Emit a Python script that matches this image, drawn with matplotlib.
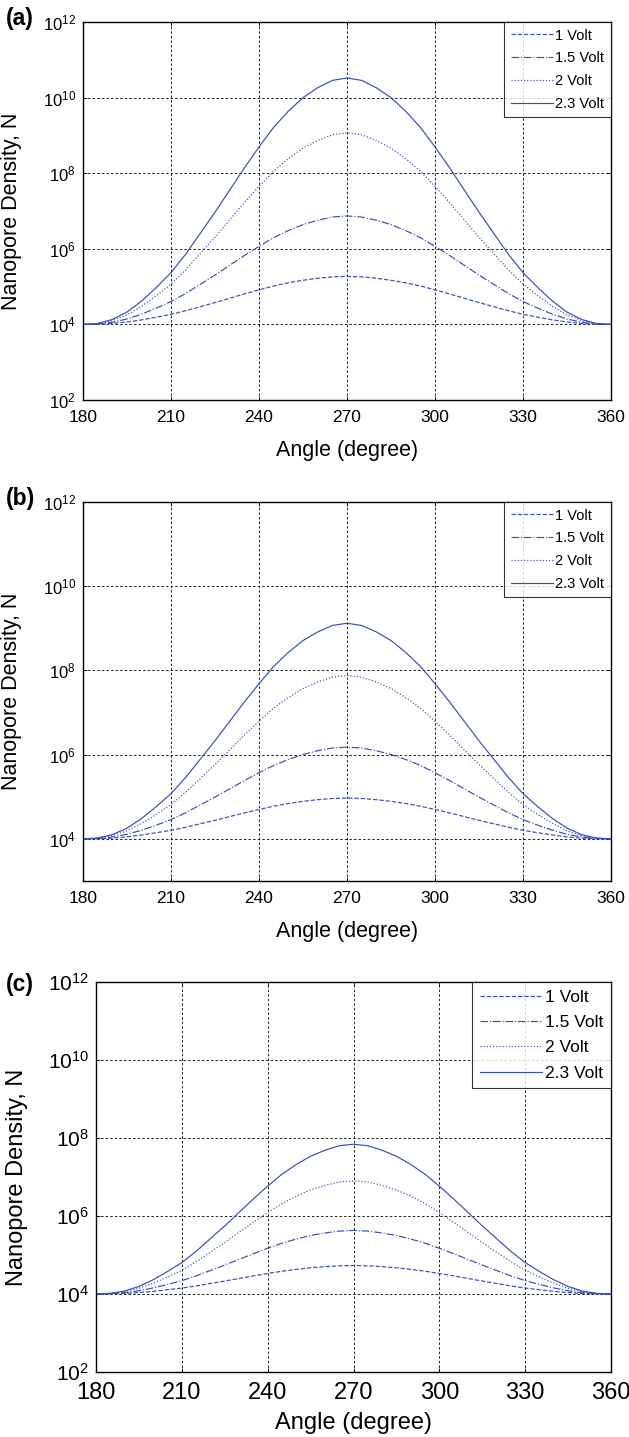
import matplotlib
matplotlib.use("Agg")
import matplotlib.pyplot as plt
from matplotlib.ticker import FixedLocator, NullLocator, LogFormatterSciNotation

plt.rcParams['font.family'] = ['Liberation Sans', 'DejaVu Sans']
plt.rcParams['mathtext.fontset'] = 'custom'
plt.rcParams['mathtext.rm'] = 'Liberation Sans'
plt.rcParams['mathtext.it'] = 'Liberation Sans:italic'
plt.rcParams['mathtext.bf'] = 'Liberation Sans:bold'

angle = [180, 185, 190, 195, 200, 205, 210, 215, 220, 225, 230, 235, 240, 245, 250, 255, 260, 265,
         270, 275, 280, 285, 290, 295, 300, 305, 310, 315, 320, 325, 330, 335, 340, 345, 350, 355, 360]
labels = ['1 Volt', '1.5 Volt', '2 Volt', '2.3 Volt']

# panel (a)
a_1v = [1.0e4, 1.01e4, 1.06e4, 1.16e4, 1.32e4, 1.55e4, 1.85e4, 2.30e4, 2.95e4, 3.78e4, 4.92e4, 6.40e4,
        8.20e4, 1.04e5, 1.26e5, 1.47e5, 1.66e5, 1.81e5, 1.86e5, 1.81e5, 1.66e5, 1.47e5, 1.26e5, 1.04e5,
        8.20e4, 6.40e4, 4.92e4, 3.78e4, 2.95e4, 2.30e4, 1.85e4, 1.55e4, 1.32e4, 1.16e4, 1.06e4, 1.01e4, 1.0e4]
a_15v = [1.0e4, 1.03e4, 1.14e4, 1.39e4, 1.87e4, 2.70e4, 4.01e4, 6.58e4, 1.15e5, 2.02e5, 3.66e5, 6.64e5,
         1.16e6, 1.98e6, 3.04e6, 4.37e6, 5.69e6, 6.93e6, 7.41e6, 6.93e6, 5.69e6, 4.37e6, 3.04e6, 1.98e6,
         1.16e6, 6.64e5, 3.66e5, 2.02e5, 1.15e5, 6.58e4, 4.01e4, 2.70e4, 1.87e4, 1.39e4, 1.14e4, 1.03e4, 1.0e4]
a_2v = [1.0e4, 1.05e4, 1.26e4, 1.79e4, 3.03e4, 5.77e4, 1.16e5, 2.79e5, 7.52e5, 2.03e6, 5.79e6, 1.66e7,
        4.47e7, 1.14e8, 2.43e8, 4.61e8, 7.36e8, 1.04e9, 1.17e9, 1.04e9, 7.36e8, 4.61e8, 2.43e8, 1.14e8,
        4.47e7, 1.66e7, 5.79e6, 2.03e6, 7.52e5, 2.79e5, 1.16e5, 5.77e4, 3.03e4, 1.79e4, 1.26e4, 1.05e4, 1.0e4]
a_23v = [1.0e4, 1.06e4, 1.35e4, 2.12e4, 4.16e4, 9.5e4, 2.34e5, 7.2e5, 2.58e6, 9.3e6, 3.57e7, 1.38e8,
         4.94e8, 1.64e9, 4.37e9, 9.95e9, 1.82e10, 2.85e10, 3.31e10, 2.85e10, 1.82e10, 9.95e9, 4.37e9, 1.64e9,
         4.94e8, 1.38e8, 3.57e7, 9.3e6, 2.58e6, 7.2e5, 2.34e5, 9.5e4, 4.16e4, 2.12e4, 1.35e4, 1.06e4, 1.0e4]

# panel (b)
b_1v = [1.0e4, 1.01e4, 1.04e4, 1.12e4, 1.24e4, 1.40e4, 1.60e4, 1.89e4, 2.29e4, 2.76e4, 3.38e4, 4.13e4,
        4.99e4, 5.97e4, 6.90e4, 7.80e4, 8.53e4, 9.12e4, 9.33e4, 9.12e4, 8.53e4, 7.80e4, 6.90e4, 5.97e4,
        4.99e4, 4.13e4, 3.38e4, 2.76e4, 2.29e4, 1.89e4, 1.60e4, 1.40e4, 1.24e4, 1.12e4, 1.04e4, 1.01e4, 1.0e4]
b_15v = [1.0e4, 1.02e4, 1.11e4, 1.29e4, 1.61e4, 2.12e4, 2.87e4, 4.18e4, 6.41e4, 9.82e4, 1.54e5, 2.42e5,
         3.72e5, 5.55e5, 7.69e5, 1.01e6, 1.24e6, 1.44e6, 1.51e6, 1.44e6, 1.24e6, 1.01e6, 7.69e5, 5.55e5,
         3.72e5, 2.42e5, 1.54e5, 9.82e4, 6.41e4, 4.18e4, 2.87e4, 2.12e4, 1.61e4, 1.29e4, 1.11e4, 1.02e4, 1.0e4]
b_2v = [1.0e4, 1.04e4, 1.20e4, 1.56e4, 2.34e4, 3.82e4, 6.53e4, 1.28e5, 2.73e5, 5.82e5, 1.30e6, 2.91e6,
        6.22e6, 1.27e7, 2.27e7, 3.72e7, 5.31e7, 6.93e7, 7.59e7, 6.93e7, 5.31e7, 3.72e7, 2.27e7, 1.27e7,
        6.22e6, 2.91e6, 1.30e6, 5.82e5, 2.73e5, 1.28e5, 6.53e4, 3.82e4, 2.34e4, 1.56e4, 1.20e4, 1.04e4, 1.0e4]
b_23v = [1.0e4, 1.05e4, 1.26e4, 1.80e4, 3.06e4, 5.86e4, 1.19e5, 2.88e5, 7.83e5, 2.14e6, 6.17e6, 1.78e7,
         4.85e7, 1.25e8, 2.69e8, 5.13e8, 8.22e8, 1.17e9, 1.32e9, 1.17e9, 8.22e8, 5.13e8, 2.69e8, 1.25e8,
         4.85e7, 1.78e7, 6.17e6, 2.14e6, 7.83e5, 2.88e5, 1.19e5, 5.86e4, 3.06e4, 1.80e4, 1.26e4, 1.05e4, 1.0e4]

# panel (c)
c_1v = [1.0e4, 1.01e4, 1.03e4, 1.09e4, 1.17e4, 1.29e4, 1.42e4, 1.61e4, 1.86e4, 2.15e4, 2.50e4, 2.91e4,
        3.36e4, 3.84e4, 4.28e4, 4.70e4, 5.02e4, 5.28e4, 5.37e4, 5.28e4, 5.02e4, 4.70e4, 4.28e4, 3.84e4,
        3.36e4, 2.91e4, 2.50e4, 2.15e4, 1.86e4, 1.61e4, 1.42e4, 1.29e4, 1.17e4, 1.09e4, 1.03e4, 1.01e4, 1.0e4]
c_15v = [1.0e4, 1.02e4, 1.08e4, 1.21e4, 1.43e4, 1.76e4, 2.20e4, 2.92e4, 4.01e4, 5.52e4, 7.73e4, 1.08e5,
         1.49e5, 2.01e5, 2.57e5, 3.16e5, 3.67e5, 4.11e5, 4.27e5, 4.11e5, 3.67e5, 3.16e5, 2.57e5, 2.01e5,
         1.49e5, 1.08e5, 7.73e4, 5.52e4, 4.01e4, 2.92e4, 2.20e4, 1.76e4, 1.43e4, 1.21e4, 1.08e4, 1.02e4, 1.0e4]
c_2v = [1.0e4, 1.03e4, 1.14e4, 1.40e4, 1.89e4, 2.72e4, 4.06e4, 6.71e4, 1.18e5, 2.09e5, 3.81e5, 6.95e5,
        1.22e6, 2.09e6, 3.23e6, 4.66e6, 6.08e6, 7.43e6, 7.94e6, 7.43e6, 6.08e6, 4.66e6, 3.23e6, 2.09e6,
        1.22e6, 6.95e5, 3.81e5, 2.09e5, 1.18e5, 6.71e4, 4.06e4, 2.72e4, 1.89e4, 1.40e4, 1.14e4, 1.03e4, 1.0e4]
c_23v = [1.0e4, 1.04e4, 1.19e4, 1.56e4, 2.32e4, 3.77e4, 6.40e4, 1.24e5, 2.64e5, 5.58e5, 1.24e6, 2.74e6,
         5.82e6, 1.18e7, 2.10e7, 3.41e7, 4.85e7, 6.34e7, 6.92e7, 6.34e7, 4.85e7, 3.41e7, 2.10e7, 1.18e7,
         5.82e6, 2.74e6, 1.24e6, 5.58e5, 2.64e5, 1.24e5, 6.40e4, 3.77e4, 2.32e4, 1.56e4, 1.19e4, 1.04e4, 1.0e4]

x_ticks = [180, 210, 240, 270, 300, 330, 360]
a_yticks = [1e2, 1e4, 1e6, 1e8, 1e10, 1e12]
b_yticks = [1e4, 1e6, 1e8, 1e10, 1e12]
c_yticks = [1e2, 1e4, 1e6, 1e8, 1e10, 1e12]

W, H = 629, 1437
fig = plt.figure(figsize=(W / 100, H / 100), dpi=100)

LINE_COLOR = '#3a4db8'
styles = ['--', '-.', ':', '-']


def make_panel(rect, series, ylim, yticks, tag, tsz, xtsz, lsz, legsz, legsp, hlen,
               ylab_x, tag_xy, xlpad):
    l, t, r, b = rect
    ax = fig.add_axes([l / W, 1 - b / H, (r - l) / W, (b - t) / H])
    for s, ls, lab in zip(series, styles, labels):
        ax.plot(angle, s, ls, color=LINE_COLOR, lw=0.85, label=lab)
    ax.set_yscale('log')
    ax.set_xlim(180, 360)
    ax.set_ylim(*ylim)
    ax.yaxis.set_major_locator(FixedLocator(yticks))
    ax.yaxis.set_major_formatter(LogFormatterSciNotation())
    ax.yaxis.set_minor_locator(NullLocator())
    ax.set_xticks(x_ticks)
    ax.tick_params(axis='both', direction='in', length=3, width=0.6,
                   top=True, right=True)
    ax.tick_params(axis='y', labelsize=tsz, pad=5)
    ax.tick_params(axis='x', labelsize=xtsz, pad=7)
    ax.grid(True, which='major', color='black', linestyle=(0, (3, 2.5)), linewidth=0.6)
    for sp in ax.spines.values():
        sp.set_linewidth(1.0)
    ax.set_xlabel('Angle (degree)', fontsize=lsz, labelpad=xlpad)
    ax.set_ylabel('Nanopore Density, N', fontsize=lsz)
    ax.yaxis.set_label_coords((ylab_x - l) / (r - l), 0.5)
    leg = ax.legend(loc='upper right', fontsize=legsz, frameon=True, fancybox=False,
                    borderaxespad=0, labelspacing=legsp, handlelength=hlen,
                    handletextpad=0.15, borderpad=0.45)
    leg.get_frame().set_edgecolor('black')
    leg.get_frame().set_linewidth(0.8)
    fig.text(tag_xy[0] / W, 1 - tag_xy[1] / H, tag, fontsize=16.5, fontweight='bold',
             ha='left', va='center')
    return ax


make_panel((83, 22, 611, 400), [a_1v, a_15v, a_2v, a_23v], (1e2, 1e12), a_yticks,
           '(a)', 12, 12.5, 15.5, 10.5, 0.6, 2.9, 22, (6, 18), 11)
make_panel((83, 502, 611, 881), [b_1v, b_15v, b_2v, b_23v], (1e3, 1e12), b_yticks,
           '(b)', 12, 12.5, 15.5, 10.5, 0.6, 2.9, 22, (6, 498), 11)
make_panel((96, 982, 611, 1372), [c_1v, c_15v, c_2v, c_23v], (1e2, 1e12), c_yticks,
           '(c)', 15, 17, 17, 12.5, 0.58, 3.6, 28, (6, 985), 6)

fig.savefig('out.png', dpi=100)
